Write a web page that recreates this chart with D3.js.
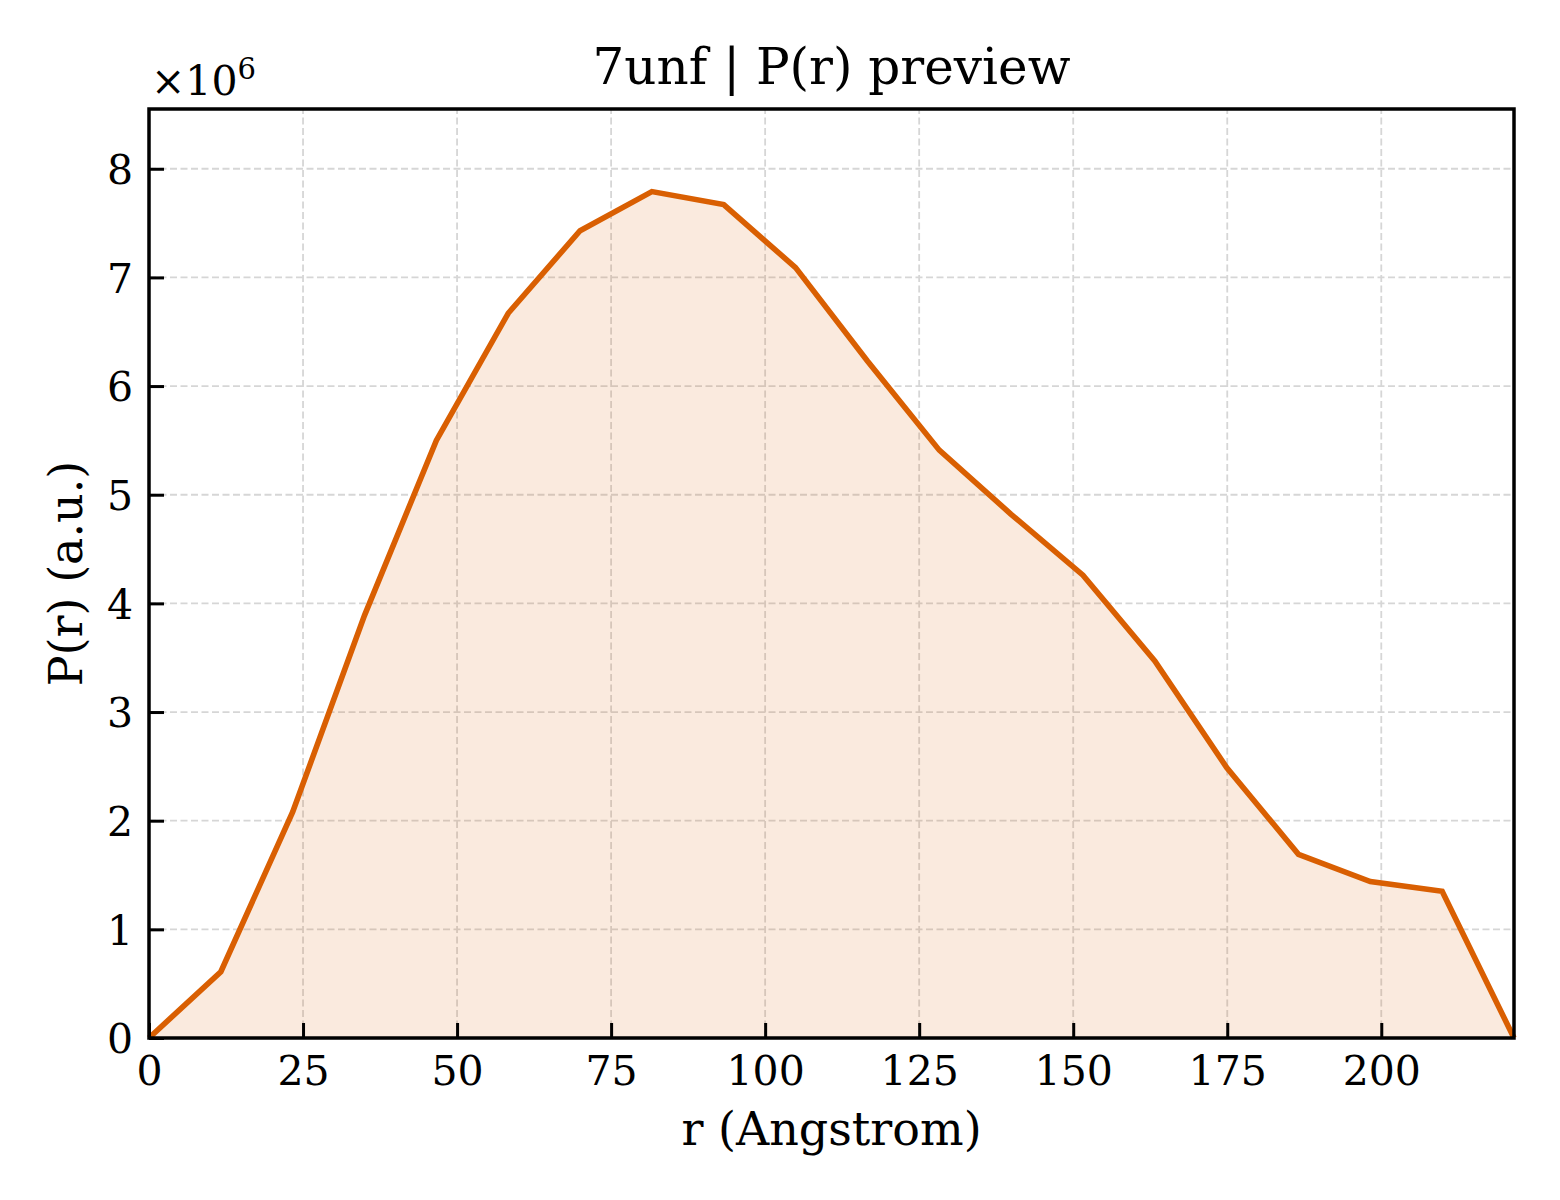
<!DOCTYPE html>
<html>
<head>
<meta charset="utf-8">
<script src="https://cdn.jsdelivr.net/npm/d3@7"></script>
<style>
  body { margin: 0; background: #fff; }
  svg text { font-family: "DejaVu Serif", serif; fill: #000; }
</style>
</head>
<body>
<div id="chart"></div>
<script>
// P(r) values, in units of 1e6
const rValues = [0, 11.66, 23.32, 34.98, 46.64, 58.3, 69.96, 81.62, 93.28, 104.94,
                 116.6, 128.26, 139.92, 151.58, 163.24, 174.9, 186.56, 198.22, 209.88, 221.54];
const prValues = [0, 0.61, 2.08, 3.89, 5.5, 6.67, 7.43, 7.79, 7.67, 7.09,
                  6.23, 5.41, 4.82, 4.26, 3.47, 2.49, 1.69, 1.44, 1.35, 0];
const xTicks = [0, 25, 50, 75, 100, 125, 150, 175, 200];
const yTicks = [0, 1, 2, 3, 4, 5, 6, 7, 8];

const titleText = "7unf | P(r) preview";
const xLabel = "r (Angstrom)";
const yLabel = "P(r) (a.u.)";

const width = 1560, height = 1200;
const margin = {left: 149, right: 46, top: 109, bottom: 162};
const lineColor = "#d95f02";

const svg = d3.select("#chart").append("svg")
    .attr("width", width)
    .attr("height", height);

const x = d3.scaleLinear()
    .domain([0, 221.54])
    .range([margin.left, width - margin.right]);
const y = d3.scaleLinear()
    .domain([0, 8.55])
    .range([height - margin.bottom, margin.top]);

const pts = rValues.map((r, i) => ({r: r, p: prValues[i]}));

// grid
const grid = svg.append("g");
grid.selectAll(".vg").data(xTicks).enter().append("line")
    .attr("x1", d => x(d)).attr("x2", d => x(d))
    .attr("y1", y.range()[0]).attr("y2", y.range()[1])
    .attr("stroke", "#d6d6d6").attr("stroke-width", 1.8)
    .attr("stroke-dasharray", "7,3.5");
grid.selectAll(".hg").data(yTicks).enter().append("line")
    .attr("y1", d => y(d)).attr("y2", d => y(d))
    .attr("x1", x.range()[0]).attr("x2", x.range()[1])
    .attr("stroke", "#d6d6d6").attr("stroke-width", 1.8)
    .attr("stroke-dasharray", "7,3.5");

// fill + line
const area = d3.area()
    .x(d => x(d.r))
    .y0(y(0))
    .y1(d => y(d.p));
svg.append("path")
    .datum(pts)
    .attr("d", area)
    .attr("fill", lineColor)
    .attr("fill-opacity", 0.13);

const line = d3.line()
    .x(d => x(d.r))
    .y(d => y(d.p));
svg.append("path")
    .datum(pts)
    .attr("d", line)
    .attr("fill", "none")
    .attr("stroke", lineColor)
    .attr("stroke-width", 5.6)
    .attr("stroke-linejoin", "miter");

// axes, ticks inward
const xAxis = d3.axisBottom(x).tickValues(xTicks).tickSizeInner(-15).tickSizeOuter(0).tickPadding(18);
const yAxis = d3.axisLeft(y).tickValues(yTicks).tickSizeInner(-15).tickSizeOuter(0).tickPadding(16);

const gx = svg.append("g")
    .attr("transform", `translate(0,${y(0)})`)
    .call(xAxis);
const gy = svg.append("g")
    .attr("transform", `translate(${x(0)},0)`)
    .call(yAxis);

[gx, gy].forEach(g => {
    g.select(".domain").remove();
    g.selectAll(".tick line").attr("stroke", "#000").attr("stroke-width", 3);
    g.selectAll(".tick text")
        .attr("font-size", 41)
        .style("font-family", "'DejaVu Serif', serif")
        .attr("fill", "#000");
});
gx.selectAll(".tick text").attr("dy", "0.71em");
gy.selectAll(".tick text").attr("dy", "0.36em");

// frame
svg.append("rect")
    .attr("x", x.range()[0]).attr("y", y.range()[1])
    .attr("width", x.range()[1] - x.range()[0])
    .attr("height", y.range()[0] - y.range()[1])
    .attr("fill", "none")
    .attr("stroke", "#000")
    .attr("stroke-width", 3.5);

// labels
svg.append("text")
    .attr("x", (x.range()[0] + x.range()[1]) / 2)
    .attr("y", 84)
    .attr("text-anchor", "middle")
    .attr("font-size", 50)
    .text(titleText);

svg.append("text")
    .attr("x", (x.range()[0] + x.range()[1]) / 2)
    .attr("y", 1145)
    .attr("text-anchor", "middle")
    .attr("font-size", 46)
    .text(xLabel);

svg.append("text")
    .attr("transform", `translate(82,${(y.range()[0] + y.range()[1]) / 2}) rotate(-90)`)
    .attr("text-anchor", "middle")
    .attr("font-size", 46)
    .text(yLabel);

// offset text
const off = svg.append("text")
    .attr("x", 151)
    .attr("y", 95)
    .attr("font-size", 41);
off.append("tspan").text("\u00d710");
off.append("tspan").attr("dy", -16).attr("font-size", 29).text("6");
</script>
</body>
</html>
